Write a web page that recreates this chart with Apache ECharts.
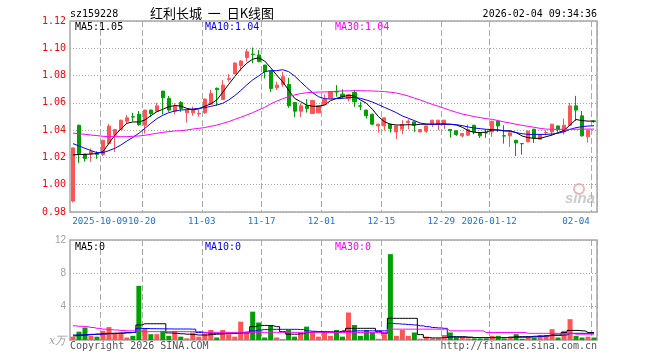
<!DOCTYPE html>
<html><head><meta charset="utf-8">
<script src="https://cdn.jsdelivr.net/npm/echarts@6/dist/echarts.min.js"></script>
<style>html,body{margin:0;padding:0;background:#fff}#c{width:660px;height:360px}</style>
</head><body><div id="c"></div>
<script>
const dates = ['2025-09-24','2025-09-25','2025-09-26','2025-09-29','2025-09-30','2025-10-09','2025-10-10','2025-10-13','2025-10-14','2025-10-15','2025-10-16','2025-10-17','2025-10-20','2025-10-21','2025-10-22','2025-10-23','2025-10-24','2025-10-27','2025-10-28','2025-10-29','2025-10-30','2025-10-31','2025-11-03','2025-11-04','2025-11-05','2025-11-06','2025-11-07','2025-11-10','2025-11-11','2025-11-12','2025-11-13','2025-11-14','2025-11-17','2025-11-18','2025-11-19','2025-11-20','2025-11-21','2025-11-24','2025-11-25','2025-11-26','2025-11-27','2025-11-28','2025-12-01','2025-12-02','2025-12-03','2025-12-04','2025-12-05','2025-12-08','2025-12-09','2025-12-10','2025-12-11','2025-12-12','2025-12-15','2025-12-16','2025-12-17','2025-12-18','2025-12-19','2025-12-22','2025-12-23','2025-12-24','2025-12-25','2025-12-26','2025-12-29','2025-12-30','2025-12-31','2026-01-05','2026-01-06','2026-01-07','2026-01-08','2026-01-09','2026-01-12','2026-01-13','2026-01-14','2026-01-15','2026-01-16','2026-01-19','2026-01-20','2026-01-21','2026-01-22','2026-01-23','2026-01-26','2026-01-27','2026-01-28','2026-01-29','2026-01-30','2026-02-02','2026-02-03','2026-02-04'];
const tickDates = ['2025-10-09','2025-10-20','2025-11-03','2025-11-17','2025-12-01','2025-12-15','2025-12-29','2026-01-12','2026-02-04'];
const tickLabels = ['2025-10-09','10-20','11-03','11-17','12-01','12-15','12-29','2026-01-12','02-04'];

const open  = [0.988,1.0436,1.0224,1.0225,1.0226,1.0221,1.0301,1.0363,1.0404,1.0466,1.0498,1.0517,1.0436,1.0547,1.0539,1.0686,1.0632,1.0539,1.0603,1.0527,1.0527,1.0518,1.0528,1.0590,1.0707,1.0625,1.0772,1.0812,1.0873,1.0932,1.0957,1.0951,1.0877,1.0833,1.0711,1.0735,1.0735,1.0603,1.0539,1.0578,1.0522,1.0527,1.0588,1.0635,1.0682,1.0664,1.0630,1.0676,1.0578,1.0547,1.0517,1.0431,1.0431,1.0444,1.0387,1.0407,1.0456,1.0461,1.0387,1.0392,1.0441,1.0441,1.0441,1.0405,1.0395,1.0358,1.0363,1.0436,1.0380,1.0381,1.0387,1.0466,1.0359,1.0358,1.0326,1.0302,1.0314,1.0407,1.0333,1.0381,1.0387,1.0431,1.0387,1.0436,1.0578,1.0505,1.0351,1.0468];
const close = [1.027,1.0228,1.0192,1.0245,1.0223,1.0326,1.0429,1.0404,1.0473,1.0490,1.0496,1.0441,1.0547,1.0522,1.0578,1.0637,1.0547,1.0576,1.0559,1.0544,1.0547,1.0523,1.0628,1.0668,1.0696,1.0730,1.0778,1.0892,1.0907,1.0975,1.0955,1.0902,1.0828,1.0706,1.0730,1.0792,1.0578,1.0539,1.0578,1.0559,1.0618,1.0578,1.0627,1.0683,1.0680,1.0645,1.0660,1.0608,1.0576,1.0505,1.0444,1.0444,1.0490,1.0412,1.0431,1.0441,1.0466,1.0436,1.0404,1.0431,1.0473,1.0473,1.0473,1.0395,1.0368,1.0375,1.0404,1.0387,1.0358,1.0379,1.0466,1.0431,1.0357,1.0380,1.0306,1.0300,1.0392,1.0343,1.0368,1.0383,1.0444,1.0407,1.0436,1.0578,1.0547,1.0358,1.0400,1.0462];
const low   = [0.987,1.016,1.017,1.0167,1.0190,1.0211,1.0300,1.0240,1.0402,1.0448,1.0466,1.0431,1.0375,1.0498,1.0537,1.0515,1.0534,1.0515,1.0534,1.0456,1.0505,1.0498,1.0520,1.0588,1.0580,1.0623,1.0755,1.0810,1.0835,1.0903,1.0890,1.0897,1.0779,1.0680,1.0694,1.0718,1.0564,1.0497,1.0497,1.0529,1.0520,1.0525,1.0583,1.0632,1.0645,1.0632,1.0610,1.0571,1.0547,1.0485,1.0436,1.0382,1.0397,1.0382,1.0336,1.0370,1.0407,1.0387,1.0385,1.0380,1.0424,1.0400,1.0410,1.0346,1.0358,1.0348,1.0360,1.0370,1.0343,1.0343,1.0351,1.0387,1.0301,1.0277,1.0211,1.0220,1.0312,1.0306,1.0330,1.0363,1.0363,1.0387,1.0368,1.0434,1.0468,1.0353,1.0309,1.0455];
const high  = [1.0272,1.0440,1.0226,1.0265,1.0245,1.0328,1.0444,1.0406,1.0476,1.0510,1.0527,1.0540,1.0549,1.0549,1.0600,1.0688,1.0650,1.0596,1.0613,1.0549,1.0573,1.0547,1.0632,1.0695,1.0712,1.0767,1.0810,1.0895,1.0910,1.0995,1.1005,1.0988,1.0878,1.0835,1.0755,1.0828,1.0784,1.0605,1.0596,1.0627,1.0620,1.0580,1.0661,1.0686,1.0730,1.0699,1.0665,1.0695,1.0608,1.0549,1.0520,1.0446,1.0495,1.0446,1.0433,1.0473,1.0480,1.0463,1.0407,1.0433,1.0475,1.0475,1.0475,1.0407,1.0397,1.0377,1.0441,1.0438,1.0382,1.0407,1.0468,1.0468,1.0436,1.0382,1.0328,1.0302,1.0399,1.0409,1.0370,1.0400,1.0446,1.0433,1.0485,1.0600,1.0651,1.0541,1.0402,1.0470];

const ma5  = [1.0218,1.0222,1.0222,1.0225,1.0228,1.0242,1.0303,1.0364,1.0408,1.045,1.046,1.046,1.0474,1.0506,1.0535,1.0553,1.0572,1.058,1.0577,1.056,1.055,1.0555,1.0575,1.0592,1.0621,1.0677,1.0736,1.0792,1.0846,1.089,1.092,1.093,1.0907,1.0858,1.0804,1.0755,1.0694,1.0633,1.0609,1.0584,1.0575,1.0575,1.0584,1.0616,1.0633,1.0645,1.0655,1.065,1.0621,1.0597,1.0553,1.0499,1.0462,1.0443,1.0438,1.0438,1.044,1.0438,1.0443,1.0443,1.0443,1.0445,1.0445,1.0443,1.0438,1.0421,1.0396,1.0384,1.0382,1.0386,1.0401,1.0401,1.0394,1.0396,1.0382,1.0357,1.0345,1.034,1.034,1.0352,1.0364,1.0382,1.0398,1.0438,1.0478,1.047,1.0466,1.0466];
const ma10 = [1.0301,1.0284,1.0267,1.025,1.0235,1.0235,1.025,1.0267,1.0291,1.032,1.0347,1.0377,1.0413,1.045,1.0484,1.0509,1.0528,1.054,1.0548,1.055,1.0555,1.056,1.0565,1.0574,1.0584,1.0597,1.0621,1.0653,1.069,1.0731,1.0768,1.0797,1.0829,1.0836,1.0836,1.0843,1.0829,1.0797,1.0755,1.0714,1.0675,1.0645,1.0631,1.0628,1.0631,1.0633,1.0638,1.064,1.0633,1.0621,1.0606,1.0587,1.0567,1.0548,1.0528,1.0504,1.0487,1.047,1.0452,1.0445,1.0443,1.0443,1.0443,1.0443,1.044,1.0433,1.0423,1.0416,1.0411,1.0406,1.0404,1.0401,1.0396,1.0391,1.0382,1.0374,1.0369,1.0369,1.0369,1.0369,1.0372,1.0377,1.0389,1.0406,1.0418,1.0426,1.043,1.0432];
const ma30 = [1.0379,1.0372,1.037,1.0364,1.036,1.0355,1.0352,1.0352,1.0352,1.0352,1.0355,1.0357,1.0362,1.037,1.0377,1.0384,1.0389,1.0394,1.0396,1.0401,1.0408,1.0413,1.0419,1.0428,1.0437,1.045,1.0462,1.0479,1.0494,1.0511,1.0528,1.0548,1.0567,1.0592,1.0612,1.063,1.0645,1.0658,1.0668,1.0674,1.0677,1.0679,1.068,1.0682,1.0685,1.0687,1.0688,1.0689,1.0689,1.0688,1.0687,1.0685,1.0682,1.0678,1.0672,1.0662,1.065,1.0635,1.0621,1.0604,1.0589,1.0575,1.056,1.0545,1.0531,1.0518,1.0509,1.0499,1.0492,1.0484,1.0479,1.047,1.046,1.0452,1.0443,1.0435,1.0428,1.0421,1.0413,1.0408,1.0406,1.0406,1.0406,1.0406,1.0407,1.0407,1.0408,1.0408];

const volume = [0.4,1.0,1.5,0.5,0.4,1.1,1.55,0.8,0.8,0.3,0.5,6.5,1.4,0.7,0.7,1.1,0.5,1.1,0.4,0.2,0.9,0.4,0.7,1.2,0.3,1.2,0.7,0.4,2.2,0.9,3.4,2.1,0.3,1.8,0.3,0.1,1.2,0.4,0.9,1.6,0.9,0.4,1.0,0.5,1.2,0.4,3.3,1.8,0.5,1.2,0.9,0.15,0.7,10.3,0.5,1.2,0.5,0.9,0.15,0.4,0.2,0.2,0.6,0.9,0.3,0.3,0.2,0.2,0.2,0.2,0.5,0.5,0.2,0.3,0.7,0.15,0.4,0.3,0.6,0.6,1.3,0.3,1.1,2.5,0.5,0.3,0.4,0.3];
const vma5  = [0.5,0.55,0.6,0.65,0.7,0.75,0.8,0.82,0.85,0.9,0.9,1.8,1.95,1.95,1.95,1.95,0.85,0.8,0.75,0.7,0.65,0.6,0.6,0.65,0.7,0.75,0.8,0.8,0.9,0.95,1.6,1.75,1.75,1.7,1.6,1.0,0.7,0.7,0.75,0.9,0.95,1.0,0.95,0.9,0.9,1.1,1.4,1.4,1.4,1.4,1.4,1.05,0.8,2.6,2.6,2.6,2.6,2.6,0.65,0.3,0.25,0.25,0.3,0.4,0.4,0.4,0.35,0.3,0.3,0.28,0.28,0.28,0.3,0.35,0.4,0.4,0.4,0.45,0.45,0.5,0.6,0.6,0.9,1.15,1.15,1.1,0.9,0.9];
const vma10 = [0.6,0.62,0.65,0.68,0.7,0.72,0.75,0.78,0.8,0.85,0.9,1.4,1.38,1.36,1.35,1.34,1.33,1.32,1.32,1.32,1.3,0.9,0.85,0.8,0.8,0.8,0.8,0.8,0.82,0.85,1.1,1.2,1.25,1.28,1.28,1.28,1.28,1.28,1.25,1.1,1.05,1.0,1.0,1.0,1.0,1.0,1.05,1.1,1.1,1.1,1.1,1.1,1.1,2.0,1.95,1.9,1.85,1.8,1.7,1.6,1.5,1.45,1.4,0.35,0.33,0.32,0.3,0.3,0.3,0.3,0.3,0.3,0.3,0.3,0.32,0.33,0.35,0.38,0.45,0.5,0.55,0.55,0.6,0.8,0.8,0.8,0.8,0.8];
const vma30 = [1.7,1.65,1.6,1.5,1.4,1.3,1.25,1.2,1.15,1.1,1.1,1.05,1.0,1.0,1.0,1.0,1.0,1.0,1.0,1.0,1.0,1.0,0.92,0.92,0.92,0.92,0.92,0.92,0.92,0.92,0.92,0.92,0.92,0.92,0.92,0.92,0.92,0.92,0.92,0.92,0.92,0.92,0.92,0.9,0.9,0.9,0.9,0.9,0.9,0.9,0.9,0.9,0.9,1.3,1.3,1.3,1.3,1.3,1.3,1.3,1.3,1.3,1.3,1.1,1.1,1.1,1.1,1.1,1.1,0.9,0.9,0.9,0.9,0.9,0.9,0.9,0.8,0.8,0.8,0.8,0.8,0.8,0.8,0.8,0.7,0.7,0.7,0.7];

const priceLegend = ['MA5:1.05','MA10:1.04','MA30:1.04'];
const volLegend = ['MA5:0','MA10:0','MA30:0'];
const titleCode = 'sz159228';
const titleText = '红利长城  一  日K线图';
const stamp = '2026-02-04 09:34:36';

const RED = '#ff5555', GREEN = '#00a000';
const MONO = '"DejaVu Sans Mono", "Liberation Mono", monospace';
const isTick = (i) => tickDates.indexOf(dates[i]) >= 0;
const candles = dates.map((d, i) => [open[i], close[i], low[i], high[i]]);
// boundary categories: one more than the candles, so each sits on a band edge
const edges = dates.concat(['']);

const chart = echarts.init(document.getElementById('c'), null, {renderer: 'canvas'});
const gridLine = {color: '#aaaaaa', type: [6, 3], width: 1};
const option = {
  animation: false,
  backgroundColor: '#ffffff',
  grid: [
    {left: 70, top: 21, width: 527, height: 191, show: true, borderColor: '#a8a8a8', borderWidth: 1.5},
    {left: 70, top: 240, width: 527, height: 100, show: true, borderColor: '#a8a8a8', borderWidth: 1.5}
  ],
  xAxis: [
    {type: 'category', gridIndex: 0, data: dates, boundaryGap: true,
     axisLine: {show: false}, axisTick: {show: false}, axisLabel: {show: false},
     splitLine: {show: true, interval: (i) => isTick(i), lineStyle: gridLine}},
    {type: 'category', gridIndex: 1, data: dates, boundaryGap: true,
     axisLine: {show: false}, axisTick: {show: false}, axisLabel: {show: false},
     splitLine: {show: true, interval: (i) => isTick(i), lineStyle: gridLine}},
    {type: 'category', gridIndex: 0, data: edges, boundaryGap: false, position: 'bottom',
     axisLine: {show: false}, axisTick: {show: false}, splitLine: {show: false},
     axisLabel: {interval: (i) => isTick(i), margin: 5, hideOverlap: false,
       formatter: (v) => { const k = tickDates.indexOf(v); return (k === tickDates.length - 1 ? '{e|' : '{a|') + tickLabels[k] + '}'; },
       rich: {a: {color: '#1a74d0', fontFamily: MONO, fontSize: 9.2},
              e: {padding: [0, 30, 0, 0], color: '#1a74d0', fontFamily: MONO, fontSize: 9.2}}}}
  ],
  yAxis: [
    {type: 'value', gridIndex: 0, min: 0.98, max: 1.12, interval: 0.02,
     axisLine: {show: false}, axisTick: {show: false},
     axisLabel: {color: '#ff0000', fontFamily: MONO, fontSize: 10, margin: 4, formatter: (v) => v.toFixed(2)},
     splitLine: {show: true, lineStyle: {color: '#aaaaaa', type: [1, 2], width: 1}}},
    {type: 'value', gridIndex: 1, min: 0, max: 12, interval: 4,
     axisLine: {show: false}, axisTick: {show: false},
     axisLabel: {color: '#a0a0a0', fontFamily: '"Liberation Sans", Arial, sans-serif', fontSize: 10, margin: 4, formatter: (v) => v === 0 ? '' : String(v)},
     splitLine: {show: true, lineStyle: {color: '#aaaaaa', type: [1, 2], width: 1}}}
  ],
  series: [
    {type: 'candlestick', xAxisIndex: 0, yAxisIndex: 0, data: candles, barWidth: 3.6,
     itemStyle: {color: RED, color0: GREEN, borderColor: RED, borderColor0: GREEN, borderWidth: 1}, z: 2},
    {type: 'line', xAxisIndex: 0, yAxisIndex: 0, data: ma5, symbol: 'none', lineStyle: {color: '#000000', width: 1}, z: 3},
    {type: 'line', xAxisIndex: 0, yAxisIndex: 0, data: ma10, symbol: 'none', lineStyle: {color: '#0000ff', width: 1}, z: 3},
    {type: 'line', xAxisIndex: 0, yAxisIndex: 0, data: ma30, symbol: 'none', lineStyle: {color: '#ff00ff', width: 1}, z: 3},
    {type: 'bar', xAxisIndex: 1, yAxisIndex: 1, data: volume, barWidth: 5,
     itemStyle: {color: (p) => close[p.dataIndex] >= open[p.dataIndex] ? RED : GREEN}, z: 2},
    {type: 'line', xAxisIndex: 1, yAxisIndex: 1, data: vma5, symbol: 'none', step: 'middle', lineStyle: {color: '#000000', width: 1}, z: 3},
    {type: 'line', xAxisIndex: 1, yAxisIndex: 1, data: vma10, symbol: 'none', step: 'middle', lineStyle: {color: '#0000ff', width: 1}, z: 3},
    {type: 'line', xAxisIndex: 1, yAxisIndex: 1, data: vma30, symbol: 'none', step: 'middle', lineStyle: {color: '#ff00ff', width: 1}, z: 3}
  ],
  graphic: [
    {type: 'text', x: 70, y: 14, style: {text: titleCode, font: '10px ' + MONO, fill: '#000', verticalAlign: 'middle'}},
    {type: 'text', x: 150, y: 13, style: {text: titleText, font: '13px "Noto Sans CJK SC"', fill: '#000', verticalAlign: 'middle'}},
    {type: 'text', x: 597, y: 14, style: {text: stamp, font: '10px ' + MONO, fill: '#000', align: 'right', verticalAlign: 'middle'}},
    {type: 'text', x: 75, y: 27, z: 10, style: {text: priceLegend[0], font: '10px ' + MONO, fill: '#000', verticalAlign: 'middle'}},
    {type: 'text', x: 205, y: 27, z: 10, style: {text: priceLegend[1], font: '10px ' + MONO, fill: '#0000ff', verticalAlign: 'middle'}},
    {type: 'text', x: 335, y: 27, z: 10, style: {text: priceLegend[2], font: '10px ' + MONO, fill: '#ff00ff', verticalAlign: 'middle'}},
    {type: 'text', x: 75, y: 247, z: 10, style: {text: volLegend[0], font: '10px ' + MONO, fill: '#000', verticalAlign: 'middle'}},
    {type: 'text', x: 205, y: 247, z: 10, style: {text: volLegend[1], font: '10px ' + MONO, fill: '#0000ff', verticalAlign: 'middle'}},
    {type: 'text', x: 335, y: 247, z: 10, style: {text: volLegend[2], font: '10px ' + MONO, fill: '#ff00ff', verticalAlign: 'middle'}},
    {type: 'text', x: 49, y: 341, style: {text: 'x万', font: 'italic 11px "DejaVu Serif", serif', fill: '#a0a0a0', verticalAlign: 'middle'}},
    {type: 'text', x: 70, y: 346, style: {text: 'Copyright 2026 SINA.COM', font: '10px ' + MONO, fill: '#555', verticalAlign: 'middle'}},
    {type: 'text', x: 597, y: 346, style: {text: 'http://finance.sina.com.cn', font: '10px ' + MONO, fill: '#555', align: 'right', verticalAlign: 'middle'}},
    {type: 'circle', shape: {cx: 579, cy: 189, r: 5}, style: {fill: 'none', stroke: 'rgba(235,150,150,0.7)', lineWidth: 2}},
    {type: 'text', x: 565, y: 199, style: {text: 'sina', font: 'italic bold 15px "Liberation Sans", sans-serif', fill: 'rgba(190,190,190,0.8)', verticalAlign: 'middle'}}
  ]
};
chart.setOption(option);
</script></body></html>
